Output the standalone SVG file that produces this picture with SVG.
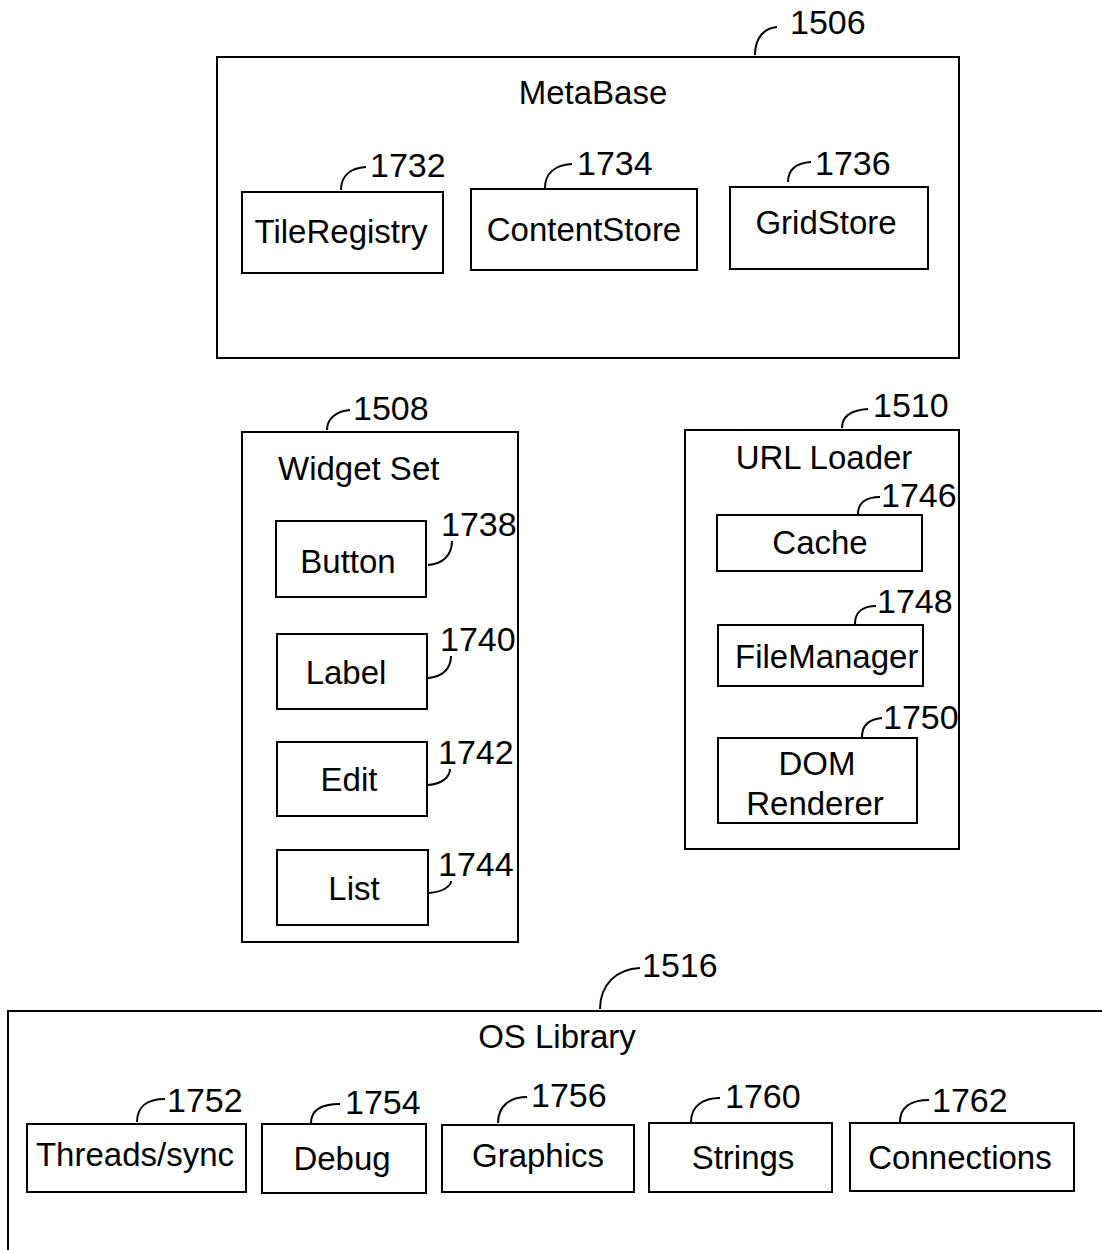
<svg xmlns="http://www.w3.org/2000/svg" width="1102" height="1250" viewBox="0 0 1102 1250">
<style>
.box{fill:none;stroke:#000;stroke-width:2}
.t{font-family:"Liberation Sans",Arial,sans-serif;font-size:33px;fill:#000}
.n{font-family:"Liberation Sans",Arial,sans-serif;font-size:34px;fill:#000}
.c{text-anchor:middle}
.ld{fill:none;stroke:#000;stroke-width:2}
</style>
<rect width="1102" height="1250" fill="#fff"/>
<g id="metabase">
<rect class="box" x="217" y="57" width="742" height="301"/>
<text class="t c" x="593" y="104">MetaBase</text>
<text class="n" x="790" y="34">1506</text>
</g>
<g id="tileregistry">
<rect class="box" x="242" y="192" width="201" height="81"/>
<text class="t c" x="341" y="243">TileRegistry</text>
<text class="n" x="370" y="177">1732</text>
</g>
<g id="contentstore">
<rect class="box" x="471" y="189" width="226" height="81"/>
<text class="t c" x="584" y="241">ContentStore</text>
<text class="n" x="577" y="175">1734</text>
</g>
<g id="gridstore">
<rect class="box" x="730" y="187" width="198" height="82"/>
<text class="t c" x="826" y="234">GridStore</text>
<text class="n" x="815" y="175">1736</text>
</g>
<g id="widgetset">
<rect class="box" x="242" y="432" width="276" height="510"/>
<text class="t" x="278" y="480">Widget Set</text>
<text class="n" x="353" y="420">1508</text>
</g>
<g id="button">
<rect class="box" x="276" y="521" width="150" height="76"/>
<text class="t c" x="348" y="573">Button</text>
<text class="n" x="441" y="536">1738</text>
</g>
<g id="label">
<rect class="box" x="277" y="634" width="150" height="75"/>
<text class="t c" x="346" y="684">Label</text>
<text class="n" x="440" y="651">1740</text>
</g>
<g id="edit">
<rect class="box" x="277" y="742" width="150" height="74"/>
<text class="t c" x="349" y="791">Edit</text>
<text class="n" x="438" y="764">1742</text>
</g>
<g id="list">
<rect class="box" x="277" y="850" width="151" height="75"/>
<text class="t c" x="354" y="900">List</text>
<text class="n" x="438" y="876">1744</text>
</g>
<g id="urlloader">
<rect class="box" x="685" y="430" width="274" height="419"/>
<text class="t c" x="824" y="469">URL Loader</text>
<text class="n" x="873" y="417">1510</text>
</g>
<g id="cache">
<rect class="box" x="717" y="515" width="205" height="56"/>
<text class="t c" x="820" y="554">Cache</text>
<text class="n" x="881" y="507">1746</text>
</g>
<g id="filemanager">
<rect class="box" x="718" y="625" width="205" height="61"/>
<text class="t" x="735" y="668">FileManager</text>
<text class="n" x="877" y="613">1748</text>
</g>
<g id="domrenderer">
<rect class="box" x="718" y="738" width="199" height="85"/>
<text class="t c" x="817" y="775">DOM</text>
<text class="t c" x="815" y="815">Renderer</text>
<text class="n" x="883" y="729">1750</text>
</g>
<g id="oslibrary">
<path class="box" d="M1102,1011 H8 V1250"/>
<text class="t c" x="557" y="1048">OS Library</text>
<text class="n" x="642" y="977">1516</text>
</g>
<g id="threads">
<rect class="box" x="27" y="1124" width="219" height="68"/>
<text class="t c" x="135" y="1166">Threads/sync</text>
<text class="n" x="167" y="1112">1752</text>
</g>
<g id="debug">
<rect class="box" x="262" y="1124" width="164" height="69"/>
<text class="t c" x="342" y="1170">Debug</text>
<text class="n" x="345" y="1114">1754</text>
</g>
<g id="graphics">
<rect class="box" x="442" y="1125" width="192" height="67"/>
<text class="t c" x="538" y="1167">Graphics</text>
<text class="n" x="531" y="1107">1756</text>
</g>
<g id="strings">
<rect class="box" x="649" y="1123" width="183" height="69"/>
<text class="t c" x="743" y="1169">Strings</text>
<text class="n" x="725" y="1108">1760</text>
</g>
<g id="connections">
<rect class="box" x="850" y="1123" width="224" height="68"/>
<text class="t c" x="960" y="1169">Connections</text>
<text class="n" x="932" y="1112">1762</text>
</g>
<g id="connectors">
<path class="ld" d="M755,55 C755,38 764,28 777,27"/>
<path class="ld" d="M341,190 C341,176 350,168 366,167"/>
<path class="ld" d="M545,188 C545,174 554,165 572,164"/>
<path class="ld" d="M788,182 C788,170 796,163 811,162"/>
<path class="ld" d="M327,430 C327,419 336,411 350,410"/>
<path class="ld" d="M428,565 C442,564 452,556 452,541"/>
<path class="ld" d="M428,678 C442,677 451,669 451,656"/>
<path class="ld" d="M428,785 C442,784 450,777 450,769"/>
<path class="ld" d="M429,893 C443,892 451,886 451,881"/>
<path class="ld" d="M842,428 C842,416 852,410 868,409"/>
<path class="ld" d="M858,514 C858,503 866,497 880,497"/>
<path class="ld" d="M855,624 C855,612 863,606 876,606"/>
<path class="ld" d="M862,737 C862,725 870,719 882,718"/>
<path class="ld" d="M600,1009 C600,985 616,969 640,968"/>
<path class="ld" d="M137,1122 C137,1106 148,1099 165,1099"/>
<path class="ld" d="M311,1123 C311,1110 322,1104 340,1104"/>
<path class="ld" d="M498,1123 C498,1106 510,1097 527,1097"/>
<path class="ld" d="M691,1122 C691,1106 703,1098 720,1098"/>
<path class="ld" d="M900,1122 C900,1107 911,1100 929,1100"/>
</g>
</svg>
